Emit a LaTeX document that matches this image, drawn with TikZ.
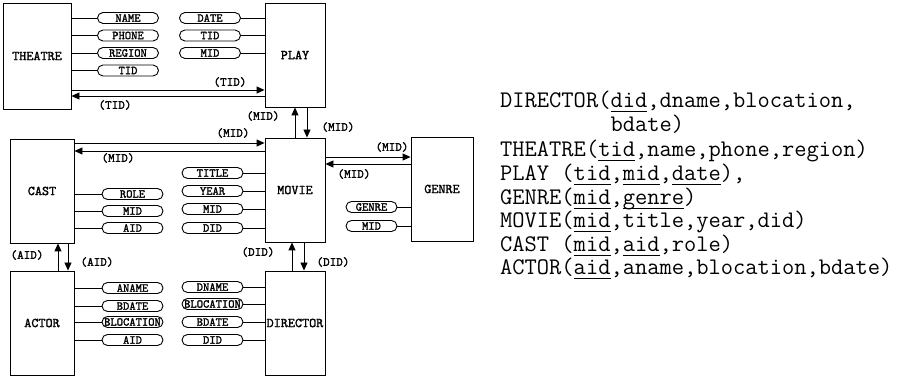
\documentclass[tikz,border=0pt]{standalone}
\usepackage{fontspec}
\newfontfamily\lblfont{lmmono10-regular}[Extension=.otf, FakeBold=1.6]
\usetikzlibrary{arrows.meta,calc}
\newcommand\myul[1]{\setbox0\hbox{#1}\rlap{\rule[-4pt]{\wd0}{0.9pt}}\box0}
\tikzset{
  ent/.style={draw, line width=0.9pt, inner sep=0pt, font=\lblfont\fontsize{13.5}{14}\selectfont},
  attr/.style={draw, line width=0.9pt, rounded corners=5.5pt, minimum width=61pt, minimum height=11pt, inner sep=0pt, font=\lblfont\fontsize{12}{11}\selectfont},
  lnk/.style={line width=0.9pt},
  arr/.style={line width=0.9pt, -{Triangle[length=8pt,width=7pt]}},
  lbl/.style={inner sep=0pt, font=\lblfont\fontsize{12.5}{11}\selectfont},
  rel/.style={anchor=base west, inner sep=0pt, font=\ttfamily\fontsize{23.8}{24}\selectfont}
}
\begin{document}
\begin{tikzpicture}[x=1pt,y=-1pt]
\useasboundingbox (0,0) rectangle (906,379);
% entities
\node[ent, minimum width=68pt, minimum height=106pt] (theatre) at (37,56) {THEATRE};
\node[ent, minimum width=60pt, minimum height=104pt] (play) at (295,55) {PLAY};
\node[ent, minimum width=64pt, minimum height=104pt] (cast) at (42,191) {CAST};
\node[ent, minimum width=60pt, minimum height=104pt] (movie) at (295,190) {MOVIE};
\node[ent, minimum width=62pt, minimum height=104pt] (genre) at (442,189) {GENRE};
\node[ent, minimum width=64pt, minimum height=104pt] (actor) at (42,323) {ACTOR};
\node[ent, minimum width=60pt, minimum height=104pt] (director) at (295,323) {DIRECTOR};
% theatre attributes
\node[attr] (tname) at (128,18) {NAME};
\node[attr] (tphone) at (128,35.5) {PHONE};
\node[attr] (tregion) at (128,53) {REGION};
\node[attr] (ttid) at (128,70.5) {TID};
\foreach \a in {tname,tphone,tregion,ttid}
  \draw[lnk] (\a.west) -- (\a.west -| theatre.east);
% play attributes
\node[attr] (pdate) at (210,18) {DATE};
\node[attr] (ptid) at (210,35.5) {TID};
\node[attr] (pmid) at (210,53) {MID};
\foreach \a in {pdate,ptid,pmid}
  \draw[lnk] (\a.east) -- (\a.east -| play.west);
% cast attributes
\node[attr] (crole) at (132.5,194) {ROLE};
\node[attr] (cmid) at (132.5,211) {MID};
\node[attr] (caid) at (132.5,228) {AID};
\foreach \a in {crole,cmid,caid}
  \draw[lnk] (\a.west) -- (\a.west -| cast.east);
% movie attributes
\node[attr] (mtitle) at (212.5,173) {TITLE};
\node[attr] (myear) at (212.5,191) {YEAR};
\node[attr] (mmid) at (212.5,209) {MID};
\node[attr] (mdid) at (212.5,228) {DID};
\foreach \a in {mtitle,myear,mmid,mdid}
  \draw[lnk] (\a.east) -- (\a.east -| movie.west);
% genre attributes
\node[attr, minimum width=51pt] (ggenre) at (371.5,207) {GENRE};
\node[attr, minimum width=51pt] (gmid) at (371.5,226) {MID};
\foreach \a in {ggenre,gmid}
  \draw[lnk] (\a.east) -- (\a.east -| genre.west);
% actor attributes
\node[attr] (aname) at (132.5,288) {ANAME};
\node[attr] (abdate) at (132.5,306) {BDATE};
\node[attr] (ablocation) at (132.5,322) {BLOCATION};
\node[attr] (aaid) at (132.5,340) {AID};
\foreach \a in {aname,abdate,ablocation,aaid}
  \draw[lnk] (\a.west) -- (\a.west -| actor.east);
% director attributes
\node[attr] (dname) at (212.5,287) {DNAME};
\node[attr] (dblocation) at (212.5,304) {BLOCATION};
\node[attr] (dbdate) at (212.5,322) {BDATE};
\node[attr] (ddid) at (212.5,340) {DID};
\foreach \a in {dname,dblocation,dbdate,ddid}
  \draw[lnk] (\a.east) -- (\a.east -| director.west);
% relationship arrows
\draw[arr] (theatre.east |- 0,90) -- (play.west |- 0,90);
\draw[arr] (play.west |- 0,96) -- (theatre.east |- 0,96);
\node[lbl] (l1) at (230,82) {(TID)};
\node[lbl] (l2) at (115,105) {(TID)};
\draw[arr] (movie.north -| 295,0) -- (play.south -| 295,0);
\draw[arr] (play.south -| 307,0) -- (movie.north -| 307,0);
\node[lbl] (l3) at (263,116) {(MID)};
\node[lbl] (l4) at (338,127) {(MID)};
\draw[arr] (cast.east |- 0,143) -- (movie.west |- 0,143);
\draw[arr] (movie.west |- 0,151) -- (cast.east |- 0,151);
\node[lbl] (l5) at (233,133) {(MID)};
\node[lbl] (l6) at (118,158) {(MID)};
\draw[arr] (movie.east |- 0,157) -- (genre.west |- 0,157);
\draw[arr] (genre.west |- 0,164) -- (movie.east |- 0,164);
\node[lbl] (l7) at (392,147) {(MID)};
\node[lbl] (l8) at (354,174) {(MID)};
\draw[arr] (actor.north -| 58,0) -- (cast.south -| 58,0);
\draw[arr] (cast.south -| 68,0) -- (actor.north -| 68,0);
\node[lbl] (l9) at (27,255) {(AID)};
\node[lbl] (l10) at (97,262) {(AID)};
\draw[arr] (director.north -| 292,0) -- (movie.south -| 292,0);
\draw[arr] (movie.south -| 304,0) -- (director.north -| 304,0);
\node[lbl] (l11) at (258,252) {(DID)};
\node[lbl] (l12) at (333,262) {(DID)};
% relational schema
\node[rel] (r1) at (500,108) {DIRECTOR(\myul{did},dname,blocation,};
\node[rel] (r2) at (500,132) {\phantom{DIRECTOR(}bdate)};
\node[rel] (r3) at (500,157) {THEATRE(\myul{tid},name,phone,region)};
\node[rel] (r4) at (500,181) {PLAY (\myul{tid},\myul{mid},\myul{date}),};
\node[rel] (r5) at (500,205) {GENRE(\myul{mid},\myul{genre})};
\node[rel] (r6) at (500,228) {MOVIE(\myul{mid},title,year,did)};
\node[rel] (r7) at (500,252) {CAST (\myul{mid},\myul{aid},role)};
\node[rel] (r8) at (500,275) {ACTOR(\myul{aid},aname,blocation,bdate)};
\end{tikzpicture}
\end{document}
